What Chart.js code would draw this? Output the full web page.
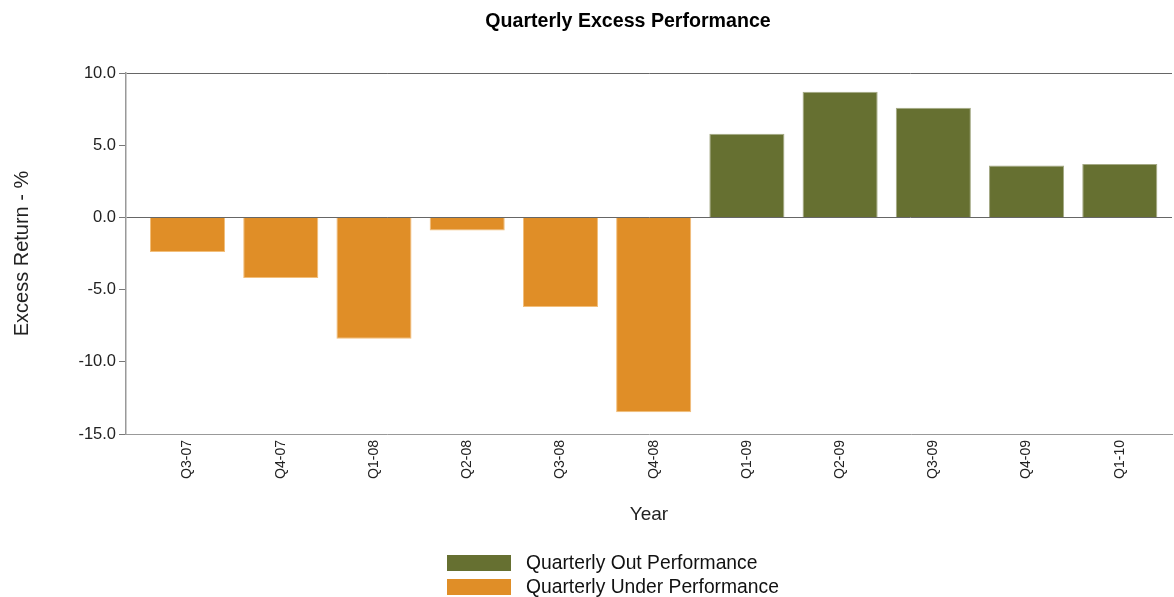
<!DOCTYPE html>
<html>
<head>
<meta charset="utf-8">
<script src="https://cdn.jsdelivr.net/npm/chart.js@4/dist/chart.umd.min.js"></script>
<style>
  html, body { margin: 0; padding: 0; background: #ffffff; }
  #wrap { width: 1174px; height: 597px; position: relative; }
</style>
</head>
<body>
<div id="wrap"><canvas id="c"></canvas></div>
<script>
// ---- data ----
const chartTitle = 'Quarterly Excess Performance';
const categories = ['Q3-07', 'Q4-07', 'Q1-08', 'Q2-08', 'Q3-08', 'Q4-08', 'Q1-09', 'Q2-09', 'Q3-09', 'Q4-09', 'Q1-10'];
const outPerformance   = [null, null, null, null, null, null, 5.8, 8.7, 7.6, 3.6, 3.7];
const underPerformance = [-2.4, -4.2, -8.4, -0.9, -6.2, -13.5, null, null, null, null, null];
const seriesNames = ['Quarterly Out Performance', 'Quarterly Under Performance'];
const yMin = -15, yMax = 10, yStep = 5;
const xTitle = 'Year';
const yTitle = 'Excess Return - %';

const GREEN = '#667031';
const ORANGE = '#E08E27';
const FONT = '"Liberation Sans", Arial, sans-serif';

function toPoints(arr) {
  return arr.map((v, i) => ({ x: i, y: v })).filter(p => p.y !== null);
}

const titlePlugin = {
  id: 'customTitle',
  afterDraw(chart) {
    const ctx = chart.ctx;
    ctx.save();
    ctx.font = 'bold 19.6px ' + FONT;
    ctx.fillStyle = '#000';
    ctx.textAlign = 'center';
    ctx.textBaseline = 'middle';
    ctx.fillText(chartTitle, 628, 21.5);
    ctx.restore();
  }
};

const legendPlugin = {
  id: 'customLegend',
  afterDraw(chart) {
    const ctx = chart.ctx;
    ctx.save();
    ctx.font = '19.3px ' + FONT;
    ctx.textBaseline = 'middle';
    ctx.textAlign = 'left';
    chart.data.datasets.forEach((ds, i) => {
      const top = 555 + i * 24;
      ctx.fillStyle = ds.backgroundColor;
      ctx.fillRect(447, top, 64, 16);
      ctx.fillStyle = '#111';
      ctx.fillText(ds.label, 526, top + 8.5);
    });
    ctx.restore();
  }
};

new Chart(document.getElementById('c'), {
  type: 'bar',
  data: {
    datasets: [
      {
        label: seriesNames[0],
        data: toPoints(outPerformance),
        backgroundColor: GREEN,
        borderColor: '#A4A984',
        borderWidth: 1,
        grouped: false,
        barPercentage: 0.9,
        categoryPercentage: 0.895
      },
      {
        label: seriesNames[1],
        data: toPoints(underPerformance),
        backgroundColor: ORANGE,
        borderColor: '#F2BE7A',
        borderWidth: 1,
        grouped: false,
        barPercentage: 0.9,
        categoryPercentage: 0.895
      }
    ]
  },
  options: {
    responsive: true,
    maintainAspectRatio: false,
    animation: false,
    layout: { padding: { top: 73, right: 2, bottom: 66.5, left: 0 } },
    plugins: {
      legend: { display: false },
      title: { display: false },
      tooltip: { enabled: false }
    },
    scales: {
      x: {
        type: 'linear',
        offset: false,
        min: -0.66,
        max: 10.56,
        grid: { display: false, drawTicks: false },
        border: { display: true, color: '#999', width: 1 },
        ticks: {
          stepSize: 1,
          includeBounds: false,
          autoSkip: false,
          maxRotation: 90,
          minRotation: 90,
          padding: 6,
          color: '#222',
          font: { family: FONT, size: 14 },
          callback: (v) => (categories[v] !== undefined ? categories[v] : '')
        },
        title: {
          display: true,
          text: xTitle,
          color: '#222',
          font: { family: FONT, size: 19 },
          padding: { top: 4, bottom: 4 }
        },
        afterFit(scale) { scale.height = 96.5; }
      },
      y: {
        min: yMin,
        max: yMax,
        grid: {
          drawTicks: true,
          tickLength: 7,
          tickColor: '#777',
          color: (c) => (c.tick && (c.tick.value === 0 || c.tick.value === yMax)) ? '#666' : 'rgba(0,0,0,0)',
          lineWidth: 1
        },
        border: { display: true, color: '#999', width: 1.5 },
        ticks: {
          stepSize: yStep,
          padding: 3,
          color: '#222',
          font: { family: FONT, size: 16.5 },
          callback: (v) => Number(v).toFixed(1)
        },
        title: {
          display: true,
          text: yTitle,
          color: '#222',
          font: { family: FONT, size: 20 },
          padding: { top: 10, bottom: 4 }
        },
        afterFit(scale) { scale.width = 126; }
      }
    }
  },
  plugins: [titlePlugin, legendPlugin]
});
</script>
</body>
</html>
